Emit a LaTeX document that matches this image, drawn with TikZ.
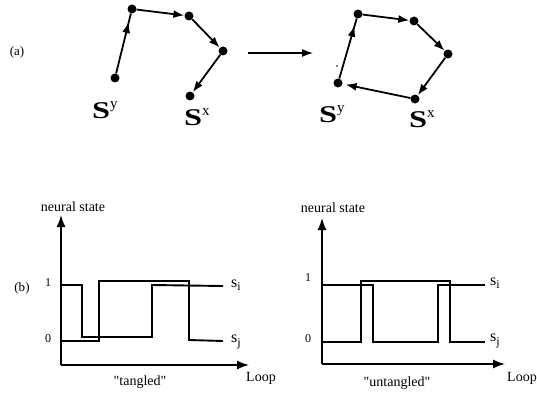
\documentclass[tikz,border=0pt]{standalone}
\usepackage{fontspec}
\setmainfont{Liberation Serif}
\usepackage{graphicx}
\usetikzlibrary{arrows.meta,decorations.markings}
\newcommand{\bigS}{\scalebox{1.35}[1]{\fontsize{24}{24}\selectfont\bfseries S}}
\newcommand{\supl}[1]{\raisebox{10pt}{\fontsize{15}{15}\selectfont #1}}
\newcommand{\subl}[1]{\raisebox{-3.5pt}{\fontsize{12}{12}\selectfont #1}}
\newcommand{\qt}{{\addfontfeatures{Ligatures=TeXOff}"}}
\begin{document}
\begin{tikzpicture}[x=1pt,y=-1pt,
  dot/.style={circle,fill=black,inner sep=0pt,minimum size=9pt},
  tinydot/.style={circle,fill=black,inner sep=0pt,minimum size=1.8pt},
  conn/.style={line width=1.8pt,-{Latex[length=11pt,width=8pt]}},
  midconn/.style={line width=1.8pt,postaction={decorate},
    decoration={markings,mark=at position #1 with {\arrow{Latex[length=11pt,width=8pt]}}}},
  bigarrow/.style={line width=1.4pt,-{Latex[length=11pt,width=8pt]}},
  axis/.style={line width=1.5pt,-{Latex[length=12pt,width=9pt]}},
  trace/.style={line width=1.9pt},
  lab/.style={inner sep=0pt,font=\fontsize{13}{13}\selectfont},
  small/.style={inner sep=0pt,font=\fontsize{14}{14}\selectfont},
  tick/.style={inner sep=0pt,font=\fontsize{12}{12}\selectfont},
  slab/.style={inner sep=0pt,anchor=west,font=\fontsize{16}{16}\selectfont},
  Slab/.style={inner sep=0pt,anchor=base west}
]
\useasboundingbox (0,0) rectangle (537,398);

% ---------- (a) ----------
\node[lab] (la) at (17,52) {(a)};

% left chain
\node[dot] (p1) at (115,78) {};
\node[dot] (p2) at (132,9) {};
\node[dot] (p3) at (189,16) {};
\node[dot] (p4) at (223,51) {};
\node[dot] (p5) at (190,96) {};
\draw[midconn=0.86] (p1) -- (p2);
\draw[conn] (p2) -- (p3);
\draw[conn] (p3) -- (p4);
\draw[conn] (p4) -- (p5);
\node[Slab] (sy1) at (92,119) {\bigS\supl{y}};
\node[Slab] (sx1) at (184,126) {\bigS\supl{x}};

% big arrow
\coordinate (ba) at (248,53);
\coordinate (bb) at (313,53);
\draw[bigarrow] (ba) -- (bb);

% right loop
\node[dot] (q1) at (338,83) {};
\node[dot] (q2) at (358,14) {};
\node[dot] (q3) at (414,21) {};
\node[dot] (q4) at (448,54) {};
\node[dot] (q5) at (415,99) {};
\node[tinydot] (qd) at (337,66) {};
\draw[midconn=0.88] (q1) -- (q2);
\draw[conn] (q2) -- (q3);
\draw[conn] (q3) -- (q4);
\draw[conn] (q4) -- (q5);
\draw[conn,shorten >=3pt] (q5) -- (q1);
\node[Slab] (sy2) at (319,123) {\bigS\supl{y}};
\node[Slab] (sx2) at (409,128) {\bigS\supl{x}};

% ---------- (b) ----------
\node[lab] (lb) at (22,288) {(b)};

% left plot
\coordinate (O1) at (61,365);
\coordinate (Y1) at (61,215);
\coordinate (X1) at (249,365);
\draw[axis] (O1) -- (Y1);
\draw[axis] (O1) -- (X1);
\node[small] (ns1) at (73,207) {neural state};
\node[tick] (one1) at (48,283) {1};
\node[tick] (zero1) at (48,339) {0};
\draw[trace] (61,285) -- (82,285) -- (82,337) -- (152,337) -- (152,285) -- (223,286);
\draw[trace] (61,341) -- (99,341) -- (99,281) -- (189,281) -- (189,340) -- (223,341);
\node[slab] (si1) at (231,285) {s\subl{i}};
\node[slab] (sj1) at (231,342) {s\subl{j}};
\node[small] (loop1) at (261,378) {Loop};
\node[small] (tg) at (140,382) {\qt tangled\qt};

% right plot
\coordinate (O2) at (322,364);
\coordinate (Y2) at (322,218);
\coordinate (X2) at (505,364);
\draw[axis] (O2) -- (Y2);
\draw[axis] (O2) -- (X2);
\node[small] (ns2) at (333,208) {neural state};
\node[tick] (one2) at (308,278) {1};
\node[tick] (zero2) at (308,339) {0};
\draw[trace] (322,285) -- (373,285) -- (373,342) -- (438,342) -- (438,285) -- (485,285);
\draw[trace] (322,342) -- (361,342) -- (361,281) -- (450,281) -- (450,342) -- (485,342);
\node[slab] (si2) at (490,283) {s\subl{i}};
\node[slab] (sj2) at (490,341) {s\subl{j}};
\node[small] (loop2) at (522,378) {Loop};
\node[small] (utg) at (397,383) {\qt untangled\qt};
\end{tikzpicture}
\end{document}
